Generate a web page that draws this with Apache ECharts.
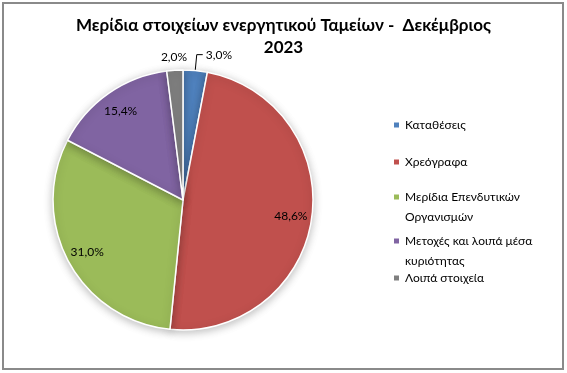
<!DOCTYPE html>
<html>
<head>
<meta charset="utf-8">
<script src="https://cdn.jsdelivr.net/npm/echarts@6/dist/echarts.min.js"></script>
<style>
html,body{margin:0;padding:0;background:#fff;}
#c{width:567px;height:373px;}
</style>
</head>
<body>
<div id="c"></div>
<script>
const titleText = 'Μερίδια στοιχείων ενεργητικού Ταμείων -  Δεκέμβριος\n2023';
const categories = ['Καταθέσεις', 'Χρεόγραφα', 'Μερίδια Επενδυτικών Οργανισμών', 'Μετοχές και λοιπά μέσα κυριότητας', 'Λοιπά στοιχεία'];
const values = [3.0, 48.6, 31.0, 15.4, 2.0];
const colors = ['#4F81BD', '#C0504D', '#9BBB59', '#8064A2', '#7F7F7F'];

// layout / style helpers
const FONT = 'Lato, "Open Sans", "Liberation Sans", sans-serif';
const labelMode = ['leader', 'inner', 'inner', 'inner', 'outer'];
const legendIconCenters = [125, 162, 197, 241, 278];
const legendWrapAfterWord = [0, 0, 2, 4, 0]; // line break after this many words (0 = none)

const fmt = p => p.value.toFixed(1).replace('.', ',') + '%';
const labelText = {fontSize: 12, color: '#000', fontFamily: FONT};
// two-line entries get an empty first line so that the first visible line sits on the icon
const wrapName = (name, k) => {
  if (!k) return name;
  const w = name.split(' ');
  return ' \n' + w.slice(0, k).join(' ') + '\n' + w.slice(k).join(' ');
};

const chart = echarts.init(document.getElementById('c'), null, {renderer: 'canvas'});

const legends = categories.map((n, i) => ({
  orient: 'vertical',
  left: 392,
  top: legendIconCenters[i] - (legendWrapAfterWord[i] ? 30 : 10),
  padding: 0,
  itemGap: 0,
  itemWidth: 7,
  itemHeight: 7,
  icon: 'rect',
  selectedMode: false,
  data: [{name: n}],
  formatter: name => wrapName(name, legendWrapAfterWord[i]),
  textStyle: {fontSize: 12, color: '#000', fontFamily: FONT, lineHeight: 20}
}));

const option = {
  animation: false,
  backgroundColor: '#fff',
  title: {
    text: titleText,
    left: 'center',
    top: 10,
    textStyle: {fontSize: 17, fontWeight: 'bold', color: '#000', fontFamily: FONT, lineHeight: 22}
  },
  legend: legends,
  graphic: [{
    type: 'rect', shape: {x: 3, y: 3, width: 560, height: 366},
    style: {fill: 'none', stroke: '#8a8a8a', lineWidth: 2}, silent: true, z: -1
  }],
  series: [
    {
      type: 'pie', center: [183, 200], radius: 130, startAngle: 90, clockwise: true,
      avoidLabelOverlap: false, emphasis: {disabled: true},
      itemStyle: {borderColor: '#fff', borderWidth: 1.5, shadowBlur: 8, shadowColor: 'rgba(0,0,0,0.25)', shadowOffsetY: 2},
      label: Object.assign({position: 'outside', formatter: fmt, distanceToLabelLine: 3}, labelText),
      labelLine: {length: 16, length2: 6, smooth: false, lineStyle: {color: '#000', width: 1}},
      data: categories.map((n, i) => ({
        name: n, value: values[i], itemStyle: {color: colors[i]},
        label: {show: labelMode[i] === 'leader'}, labelLine: {show: labelMode[i] === 'leader'}
      }))
    },
    {
      type: 'pie', center: [183, 200], radius: [82, 130], startAngle: 90, clockwise: true,
      silent: true, avoidLabelOverlap: false,
      itemStyle: {color: 'rgba(0,0,0,0)', borderWidth: 0},
      label: Object.assign({position: 'inside', formatter: fmt}, labelText),
      labelLine: {show: false},
      data: categories.map((n, i) => ({
        name: n, value: values[i], label: {show: labelMode[i] === 'inner'}
      }))
    },
    {
      type: 'pie', center: [183, 200], radius: [130, 150], startAngle: 90, clockwise: true,
      silent: true, avoidLabelOverlap: false,
      itemStyle: {color: 'rgba(0,0,0,0)', borderWidth: 0},
      label: Object.assign({position: 'inside', formatter: fmt}, labelText),
      labelLine: {show: false},
      data: categories.map((n, i) => ({
        name: n, value: values[i], label: {show: labelMode[i] === 'outer'}
      }))
    }
  ]
};
chart.setOption(option);
</script>
</body>
</html>
